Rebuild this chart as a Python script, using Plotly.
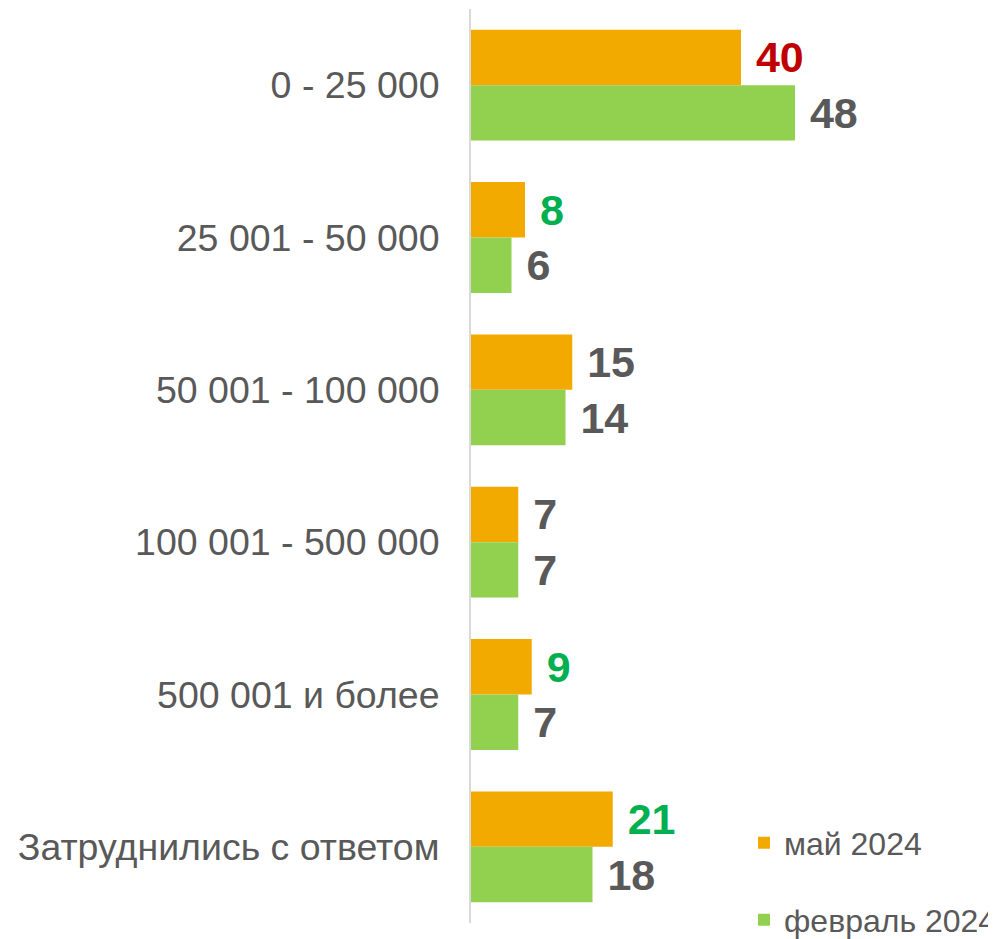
import plotly.graph_objects as go

categories = ["0 - 25 000", "25 001 - 50 000", "50 001 - 100 000",
              "100 001 - 500 000", "500 001 и более", "Затруднились с ответом"]
may_2024 = [40, 8, 15, 7, 9, 21]
feb_2024 = [48, 6, 14, 7, 7, 18]
series_names = ["май 2024", "февраль 2024"]
may_label_colors = ["#C00000", "#00B050", "#595959", "#595959", "#00B050", "#00B050"]
feb_label_colors = ["#595959"] * 6

FONT = "Arial, 'Liberation Sans', sans-serif"
# page body adds an 8px offset; figure sized to fill the 996x939 window
W, H = 988, 931
ML, MR, MT, MB = 463, 20, 1, 16
plot_w = W - ML - MR
plot_h = H - MT - MB
px_per_unit = 6.75

fig = go.Figure()
fig.add_trace(go.Bar(
    y=categories, x=may_2024, orientation="h", name=series_names[0],
    marker=dict(color="#F2AA00", line=dict(width=0)),
    text=may_2024, texttemplate=" %{x}", textposition="outside",
    textfont=dict(family=FONT, size=43, color=may_label_colors, weight="bold"),
    cliponaxis=False, legend="legend", constraintext="none",
))
fig.add_trace(go.Bar(
    y=categories, x=feb_2024, orientation="h", name=series_names[1],
    marker=dict(color="#92D050", line=dict(width=0)),
    text=feb_2024, texttemplate=" %{x}", textposition="outside",
    textfont=dict(family=FONT, size=43, color=feb_label_colors, weight="bold"),
    cliponaxis=False, legend="legend2", constraintext="none",
))

leg_x = (736 - ML) / plot_w
fig.update_layout(
    width=W, height=H,
    margin=dict(l=ML, r=MR, t=MT, b=MB, autoexpand=False),
    paper_bgcolor="white", plot_bgcolor="white",
    barmode="group", bargap=0.272, bargroupgap=0,
    font=dict(family=FONT, color="#595959"),
    xaxis=dict(range=[0, plot_w / px_per_unit], visible=False, fixedrange=True),
    yaxis=dict(type="category", autorange="reversed", showgrid=False,
               showline=True, linecolor="#D9D9D9", linewidth=2,
               ticks="", ticklabelstandoff=22,
               tickfont=dict(family=FONT, size=37.5, color="#595959")),
    legend=dict(x=leg_x, y=(915 - 835) / plot_h, xanchor="left", yanchor="middle",
                font=dict(family=FONT, size=32, color="#595959"),
                bgcolor="rgba(0,0,0,0)"),
    legend2=dict(x=leg_x, y=(915 - 912) / plot_h, xanchor="left", yanchor="middle",
                 font=dict(family=FONT, size=32, color="#595959"),
                 bgcolor="rgba(0,0,0,0)"),
    showlegend=True,
)

fig.write_html("out.html")
